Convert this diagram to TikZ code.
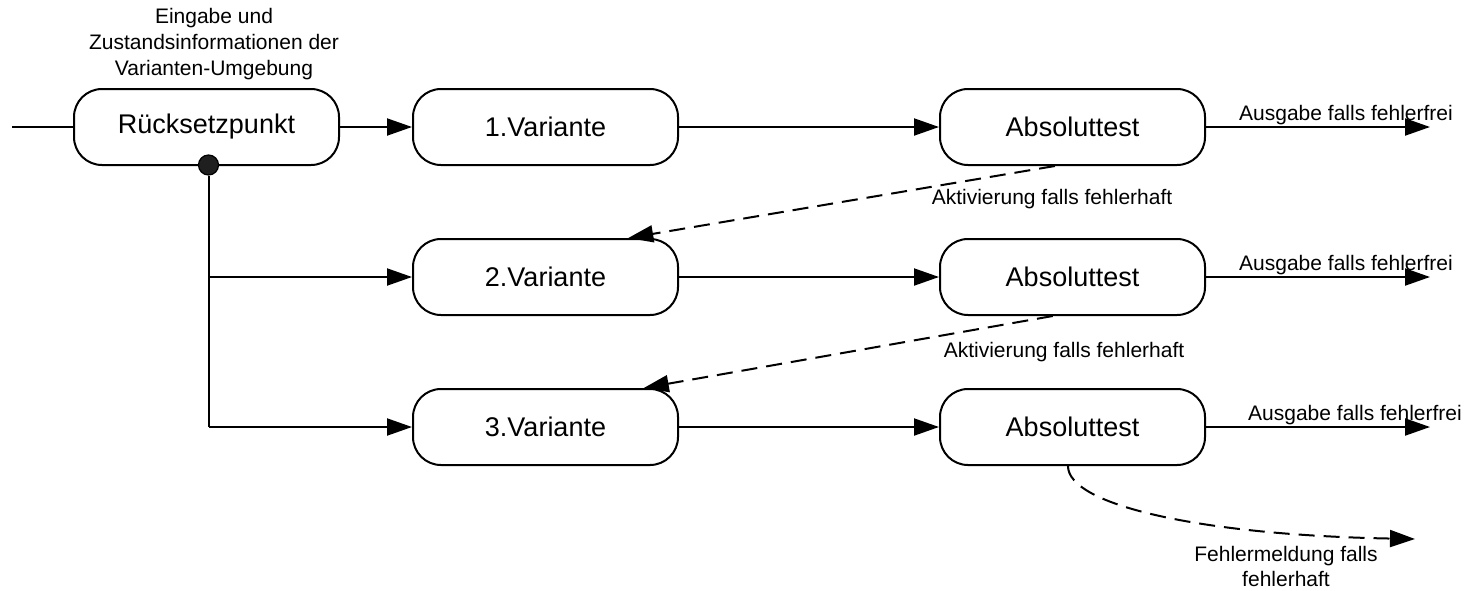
\documentclass[tikz,border=0pt]{standalone}
\usepackage{fontspec}
\setmainfont{Liberation Sans}
\usetikzlibrary{arrows.meta,calc}

\tikzset{
  box/.style={draw, line width=1pt, rounded corners=14pt,
    minimum width=132.5pt, minimum height=38pt, inner sep=0pt,
    font=\fontsize{13.5}{16}\selectfont},
  lbl/.style={inner sep=0pt, font=\fontsize{10.5}{13}\selectfont, align=center},
  flow/.style={line width=1pt, -{Triangle[length=12.5pt, width=8.5pt]}},
  plain/.style={line width=1pt},
  fail/.style={flow, dash pattern=on 8pt off 4.5pt},
}

\begin{document}
\begin{tikzpicture}[x=0.5pt, y=-0.5pt]
  \useasboundingbox (0,0) rectangle (1470,590);

  % main blocks
  \node[box] (rs) at (206.5,127) {Rücksetzpunkt};
  \node[box] (v1) at (545.5,127) {1.Variante};
  \node[box] (v2) at (545.5,277) {2.Variante};
  \node[box] (v3) at (545.5,427) {3.Variante};
  \node[box] (a1) at (1072.5,127) {Absoluttest};
  \node[box] (a2) at (1072.5,277) {Absoluttest};
  \node[box] (a3) at (1072.5,427) {Absoluttest};

  % input
  \coordinate (in) at (12,127);
  \node[lbl] (inlbl) at (214,44) {Eingabe und\\Zustandsinformationen der\\Varianten-Umgebung};
  \draw[plain] (in) -- (rs.west);
  \draw[flow] (rs.east) -- (v1.west);

  % branching from the reset point
  \node[circle, fill=black!88, draw=black, line width=0.6pt, minimum size=10pt, inner sep=0pt]
    (dot) at (208.5,165) {};
  \coordinate (j2) at (208.5,277);
  \coordinate (j3) at (208.5,427);
  \draw[plain] (dot.south) -- (j3);
  \draw[flow] (j2) -- (v2.west);
  \draw[flow] (j3) -- (v3.west);

  % variants to acceptance tests
  \draw[flow] (v1.east) -- (a1.west);
  \draw[flow] (v2.east) -- (a2.west);
  \draw[flow] (v3.east) -- (a3.west);

  % outputs
  \coordinate (o1) at (1430,127);
  \coordinate (o2) at (1430,277);
  \coordinate (o3) at (1430,427);
  \draw[flow] (a1.east) -- (o1);
  \draw[flow] (a2.east) -- (o2);
  \draw[flow] (a3.east) -- (o3);
  \node[lbl, anchor=base] (ol1) at (1346,120) {Ausgabe falls fehlerfrei};
  \node[lbl, anchor=base] (ol2) at (1346,270) {Ausgabe falls fehlerfrei};
  \node[lbl, anchor=base] (ol3) at (1355,420) {Ausgabe falls fehlerfrei};

  % activation of the next variant on failure
  \draw[fail] ($(a1.south west)!0.434!(a1.south east)$) -- ($(v2.north west)!0.81!(v2.north east)$);
  \draw[fail] ($(a2.south west)!0.426!(a2.south east)$) -- ($(v3.north west)!0.868!(v3.north east)$);
  \node[lbl] (act1) at (1052,199) {Aktivierung falls fehlerhaft};
  \node[lbl] (act2) at (1064,352) {Aktivierung falls fehlerhaft};

  % error message after the last variant
  \coordinate (err) at (1415,539);
  \draw[fail] ($(a3.south west)!0.483!(a3.south east)$)
    .. controls (1068,505) and (1200,535) .. (err);
  \node[lbl, font=\fontsize{10.5}{12.5}\selectfont] (errlbl) at (1286,566) {Fehlermeldung falls\\fehlerhaft};
\end{tikzpicture}
\end{document}
